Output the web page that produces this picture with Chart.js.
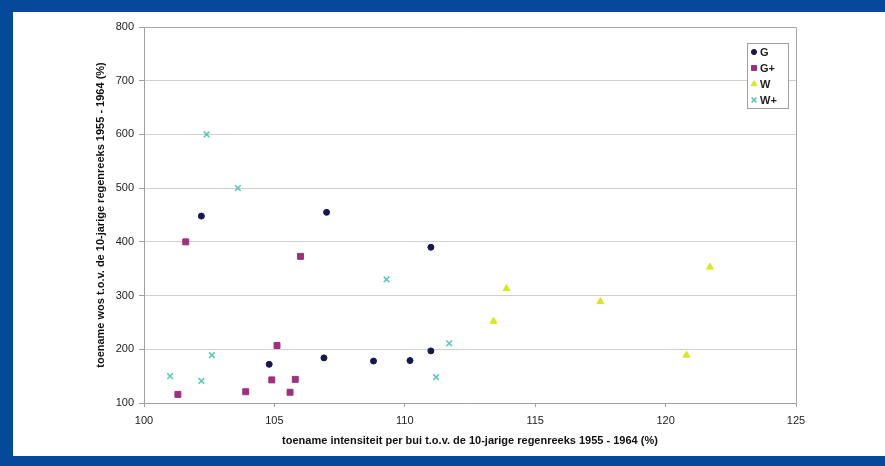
<!DOCTYPE html>
<html>
<head>
<meta charset="utf-8">
<script src="https://cdn.jsdelivr.net/npm/chart.js@4"></script>
<style>
  html, body { margin: 0; padding: 0; background: #fff; }
  #frame {
    position: absolute; left: 0; top: 0; width: 885px; height: 466px;
    box-sizing: border-box;
    border-top: 12px solid #04499a; border-left: 13px solid #04499a; border-bottom: 10px solid #04499a;
  }
  #chart { position: absolute; left: 0; top: 0; }
</style>
</head>
<body>
<div id="frame"></div>
<canvas id="chart" width="885" height="466"></canvas>
<script>
// series (x = intensiteit %, y = wos %)
const gX = [102.2, 107.0, 111.0, 104.8, 106.9, 108.8, 110.2, 111.0];
const gY = [448, 455, 390, 172, 184, 178, 179, 197];
const gPlusX = [101.6, 106.0, 105.1, 101.3, 103.9, 104.9, 105.8, 105.6];
const gPlusY = [400, 373, 207, 116, 121, 143, 144, 120];
const wX = [113.9, 113.4, 117.5, 120.8, 121.7];
const wY = [313, 252, 289, 189, 353];
const wPlusX = [102.4, 103.6, 109.3, 102.6, 101.0, 102.2, 111.7, 111.2];
const wPlusY = [600, 500, 330, 189, 150, 141, 211, 148];

const seriesLabels = ["G", "G+", "W", "W+"];
const xTitle = "toename intensiteit per bui t.o.v. de 10-jarige regenreeks 1955 - 1964 (%)";
const yTitle = "toename wos t.o.v. de 10-jarige regenreeks 1955 - 1964 (%)";

const pts = (xs, ys) => xs.map((x, i) => ({ x, y: ys[i] }));
const FONT = "'Liberation Sans', Arial, sans-serif";
Chart.defaults.font.family = FONT;

// top + right edge of the plot area, like the Excel plot frame
const plotFrame = {
  id: "plotFrame",
  beforeDatasetsDraw(chart) {
    const { ctx, chartArea: a } = chart;
    ctx.save();
    ctx.strokeStyle = "#a8a8a8";
    ctx.lineWidth = 1;
    ctx.beginPath();
    ctx.moveTo(a.left, a.top + 0.5);
    ctx.lineTo(a.right + 0.5, a.top + 0.5);
    ctx.lineTo(a.right + 0.5, a.bottom);
    ctx.stroke();
    ctx.restore();
  },
};

// boxed legend in the top-right corner of the plot
const boxLegend = {
  id: "boxLegend",
  afterDraw(chart) {
    const { ctx } = chart;
    const x0 = 747, y0 = 43, w = 41, h = 65, row = 16;
    ctx.save();
    ctx.fillStyle = "#fff";
    ctx.strokeStyle = "#a0a0a0";
    ctx.lineWidth = 1;
    ctx.fillRect(x0, y0, w, h);
    ctx.strokeRect(x0 + 0.5, y0 + 0.5, w, h);
    ctx.font = "bold 11px " + FONT;
    ctx.textBaseline = "middle";
    chart.data.datasets.forEach((ds, i) => {
      const y = y0 + 9 + i * row;
      ctx.fillStyle = ds.backgroundColor;
      ctx.strokeStyle = ds.borderColor;
      ctx.lineWidth = ds.borderWidth || 1;
      Chart.helpers.drawPoint(ctx, {
        pointStyle: ds.pointStyle, radius: ds.pointRadius * 0.85, borderWidth: ds.borderWidth || 1, rotation: 0,
      }, x0 + 7, y);
      ctx.fillStyle = "#222";
      ctx.fillText(ds.label, x0 + 13, y + 0.5);
    });
    ctx.restore();
  },
};

new Chart(document.getElementById("chart"), {
  type: "scatter",
  data: {
    datasets: [
      { label: seriesLabels[0], data: pts(gX, gY), pointStyle: "circle", pointRadius: 3,
        backgroundColor: "#15184e", borderColor: "#15184e", borderWidth: 1 },
      { label: seriesLabels[1], data: pts(gPlusX, gPlusY), pointStyle: "rect", pointRadius: 4.2,
        backgroundColor: "#9e307c", borderColor: "#9e307c", borderWidth: 1 },
      { label: seriesLabels[2], data: pts(wX, wY), pointStyle: "triangle", pointRadius: 4,
        backgroundColor: "#d8e81c", borderColor: "#d8e81c", borderWidth: 1 },
      { label: seriesLabels[3], data: pts(wPlusX, wPlusY), pointStyle: "crossRot", pointRadius: 4,
        backgroundColor: "#55c8b5", borderColor: "#55c8b5", borderWidth: 1.5 },
    ],
  },
  options: {
    responsive: false,
    animation: false,
    layout: { padding: { left: 94, top: 27, right: 89, bottom: 18 } },
    plugins: { legend: { display: false }, tooltip: { enabled: false } },
    scales: {
      x: {
        type: "linear", min: 100, max: 125,
        ticks: { stepSize: 5, color: "#222", font: { size: 11 }, padding: 7 },
        grid: { color: "transparent", tickColor: "#a0a0a0", tickLength: 4 },
        border: { color: "#a0a0a0" },
        title: { display: true, text: xTitle, color: "#111", font: { size: 11, weight: "bold" }, padding: 0 },
        afterFit: (s) => { s.height = 45; },
      },
      y: {
        min: 100, max: 800,
        ticks: { stepSize: 100, color: "#222", font: { size: 11 }, padding: 5 },
        grid: { color: "#cfcfcf", tickColor: "#a0a0a0", tickLength: 5 },
        border: { color: "#a0a0a0" },
        title: { display: true, text: yTitle, color: "#111", font: { size: 11, weight: "bold" }, padding: 0 },
        afterFit: (s) => { s.width = 50; },
      },
    },
  },
  plugins: [plotFrame, boxLegend],
});
</script>
</body>
</html>
